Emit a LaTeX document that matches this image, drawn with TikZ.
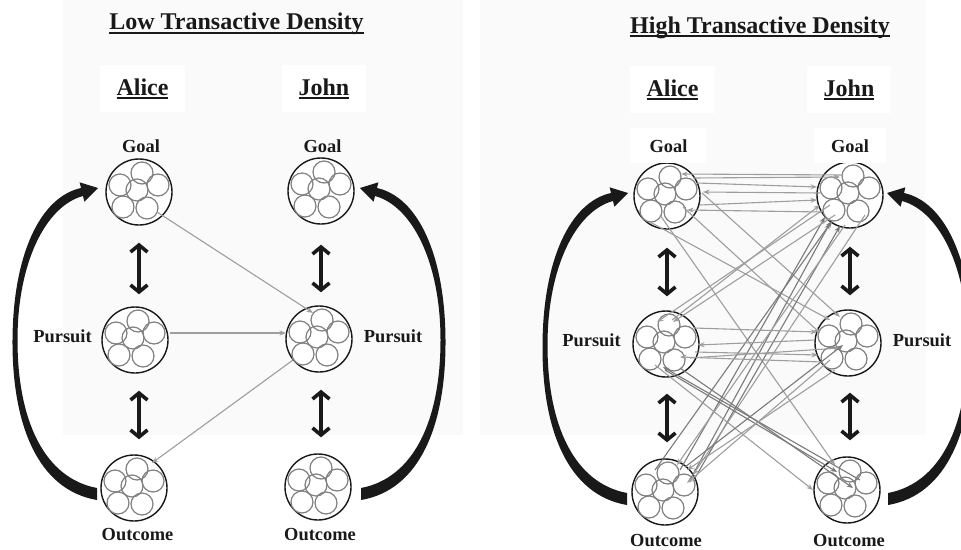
\documentclass[tikz,border=0pt]{standalone}
\usepackage{fontspec}
\setmainfont{Liberation Serif}
\usetikzlibrary{arrows.meta}
\newsavebox\myulbox
\newcommand\myul[1]{\sbox\myulbox{#1}\rlap{\rule[-4.2pt]{\wd\myulbox}{1.9pt}}\usebox\myulbox}
\newcommand\mybigcurve{%
 \fill[black!90] (97,500) .. controls (38,490) and (12,425) .. (12.5,340)
   .. controls (13,255) and (40,197) .. (81,188) -- (79.6,182.3) -- (98,188)
   -- (84.4,201.7) -- (83,196) .. controls (46,206) and (17.5,262) .. (17.5,340)
   .. controls (17.5,420) and (44,478) .. (97,488) -- cycle;}
\tikzset{
  bigc/.style={circle, draw=black!90, line width=1.4pt, fill=white, minimum size=66pt, inner sep=0pt},
  smallc/.style={draw=black!50, line width=1.2pt},
  head/.style={font=\fontsize{24}{28}\selectfont\bfseries, text=black!90, anchor=base, inner sep=0pt},
  lab/.style={font=\fontsize{18.4}{22}\selectfont\bfseries, text=black!90, anchor=base, inner sep=0pt},
  whitebox/.style={fill=white, inner xsep=17pt, inner ysep=13pt},
  dbl/.style={line width=3.6pt, draw=black!90, {Straight Barb[length=7pt,width=17pt]}-{Straight Barb[length=7pt,width=17pt]}},
  garrow/.style={draw=black!38, line width=1.1pt, -{Stealth[length=6.5pt,width=5pt]}},
  garrowd/.style={draw=black!52, line width=1.1pt, -{Stealth[length=6.5pt,width=5pt]}}
}
\begin{document}
\begin{tikzpicture}[x=1pt,y=-1pt]
\useasboundingbox (0,0) rectangle (961,549);
% faint background panels
\fill[black!2] (63,0) rectangle (463,435);
\fill[black!2] (480,0) rectangle (925,435);

% ---------- headings ----------
\node[head] (t1) at (236.5,29.5) {\myul{Low Transactive Density}};
\node[head] (t2) at (760,33) {\myul{High Transactive Density}};
\node[head, whitebox] (la) at (142.5,95) {\myul{Alice}};
\node[head, whitebox] (lj) at (324,95) {\myul{John}};
\node[head, whitebox] (ra) at (672.5,96) {\myul{Alice}};
\node[head, whitebox] (rj) at (849,96) {\myul{John}};

% ---------- left panel circles ----------
\node[bigc] (lAG) at (139,192) {};
\node[bigc] (lJG) at (321,191) {};
\node[bigc] (lAP) at (135,340) {};
\node[bigc] (lJP) at (319,339) {};
\node[bigc] (lAO) at (134,488) {};
\node[bigc] (lJO) at (318,487) {};
% ---------- right panel circles ----------
\node[bigc] (rAG) at (667,196) {};
\node[bigc] (rJG) at (850,195) {};
\node[bigc] (rAP) at (666,344) {};
\node[bigc] (rJP) at (848,343) {};
\node[bigc] (rAO) at (665,492) {};
\node[bigc] (rJO) at (847,490) {};

\foreach \n in {lAG,lJG,lAP,lJP,lAO,lJO,rAG,rJG,rAP,rJP,rAO,rJO}{
  \foreach \dx/\dy in {3/-19,-19/-7,-2/-2,19/-7,-16/15,8/16}{
    \draw[smallc] ([shift={(\dx,\dy)}]\n.center) circle[radius=11pt];
  }
}

% ---------- labels ----------
\node[lab] (lgA) at (141,152) {Goal};
\node[lab] (lgJ) at (322.5,152) {Goal};
\node[lab] (lpA) at (62.5,342) {Pursuit};
\node[lab] (lpJ) at (393,342) {Pursuit};
\node[lab] (loA) at (137.5,540) {Outcome};
\node[lab] (loJ) at (320,540) {Outcome};
\node[lab, fill=white, inner xsep=20pt, inner ysep=11pt] (rgA) at (668.5,152) {Goal};
\node[lab, fill=white, inner xsep=17pt, inner ysep=11pt] (rgJ) at (850,152) {Goal};
\node[lab] (rpA) at (591.5,346.5) {Pursuit};
\node[lab] (rpJ) at (922,346.5) {Pursuit};
\node[lab] (roA) at (666,546.5) {Outcome};
\node[lab] (roJ) at (849,546.5) {Outcome};

% ---------- big curved feedback arrows ----------
\mybigcurve
\begin{scope}[shift={(458,0)},xscale=-1]\mybigcurve\end{scope}
\begin{scope}[shift={(530,5)}]\mybigcurve\end{scope}
\begin{scope}[shift={(985,5)},xscale=-1]\mybigcurve\end{scope}

% ---------- double arrows ----------
\draw[dbl, shorten <=17pt, shorten >=12pt] (lAG.south) -- (lAG.south |- lAP.north);
\draw[dbl, shorten <=17pt, shorten >=15pt] (lAG.south |- lAP.south) -- (lAG.south |- lAO.north);
\draw[dbl, shorten <=20pt, shorten >=13pt] (lJG.south) -- (lJG.south |- lJP.north);
\draw[dbl, shorten <=17pt, shorten >=16pt] (lJG.south |- lJP.south) -- (lJG.south |- lJO.north);
\draw[dbl, shorten <=18pt, shorten >=14pt] (rAG.south) -- (rAG.south |- rAP.north);
\draw[dbl, shorten <=16pt, shorten >=16pt] (rAG.south |- rAP.south) -- (rAG.south |- rAO.north);
\draw[dbl, shorten <=18pt, shorten >=14pt] (rJG.south) -- (rJG.south |- rJP.north);
\draw[dbl, shorten <=16pt, shorten >=16pt] (rJG.south |- rJP.south) -- (rJG.south |- rJO.north);

% ---------- left panel transactive links ----------
\draw[garrow] ([shift={(18,20)}]lAG.center) -- ([shift={(-6,-26)}]lJP.center);
\draw[garrow] ([shift={(35,-7)}]lAP.center) -- ([shift={(-33,-6)}]lJP.center);
\draw[garrow] ([shift={(-26,21)}]lJP.center) -- ([shift={(18,-25)}]lAO.center);

% ---------- right panel transactive links ----------
\draw[garrow]  ([shift={(-7,-20)}]rJG.center) -- ([shift={(14,-22)}]rAG.center);
\draw[garrow]  ([shift={(26,-18)}]rAG.center) -- ([shift={(-10,-18)}]rJG.center);
\draw[garrow]  ([shift={(30,-13)}]rAG.center) -- ([shift={(-33,-8)}]rJG.center);
\draw[garrow]  ([shift={(-30,-2)}]rJG.center) -- ([shift={(36,-4)}]rAG.center);
\draw[garrow]  ([shift={(33,9)}]rAG.center) -- ([shift={(-33,5)}]rJG.center);
\draw[garrow]  ([shift={(-28,17)}]rJG.center) -- ([shift={(20,14)}]rAG.center);
\draw[garrow]  ([shift={(35,-3)}]rAG.center) -- ([shift={(-8,-26)}]rJP.center);
\draw[garrow]  ([shift={(-7,19)}]rAG.center) -- ([shift={(-12,-25)}]rJO.center);
\draw[garrow]  ([shift={(16,11)}]rAG.center) -- ([shift={(-28,-10)}]rJP.center);
\draw[garrow]  ([shift={(-17,26)}]rAG.center) -- ([shift={(-18,-23)}]rJP.center);
\draw[garrowd] ([shift={(15,-22)}]rAO.center) -- ([shift={(-25,22)}]rJG.center);
\draw[garrowd] ([shift={(25,-12)}]rAO.center) -- ([shift={(-20,28)}]rJG.center);
\draw[garrow]  ([shift={(6,-24)}]rAP.center) -- ([shift={(-30,10)}]rJG.center);
\draw[garrowd] ([shift={(30,-14)}]rAO.center) -- ([shift={(-10,31)}]rJG.center);
\draw[garrowd] ([shift={(-10,-22)}]rAO.center) -- ([shift={(-18,26)}]rJG.center);
\draw[garrow]  ([shift={(15,20)}]rJG.center) -- ([shift={(28,-17)}]rAO.center);
\draw[garrow]  ([shift={(-18,17)}]rJP.center) -- ([shift={(22,-9)}]rAO.center);
\draw[garrow]  ([shift={(-5,30)}]rJG.center) -- ([shift={(12,-27)}]rAO.center);
\draw[garrow]  ([shift={(-20,10)}]rJG.center) -- ([shift={(-9,-22)}]rAP.center);
\draw[garrow]  ([shift={(-15,20)}]rJG.center) -- ([shift={(7,-22)}]rAP.center);
\draw[garrow]  ([shift={(28,-16)}]rAP.center) -- ([shift={(-31,-11)}]rJP.center);
\draw[garrow]  ([shift={(-33,-3)}]rJP.center) -- ([shift={(32,1)}]rAP.center);
\draw[garrow]  ([shift={(29,8)}]rAP.center) -- ([shift={(-30,12)}]rJP.center);
\draw[garrow]  ([shift={(24,14)}]rAP.center) -- ([shift={(-8,5)}]rJP.center);
\draw[garrow]  ([shift={(-26,19)}]rJP.center) -- ([shift={(14,13)}]rAP.center);
\draw[garrow]  ([shift={(-11,21)}]rAP.center) -- ([shift={(-34,0)}]rJO.center);
\draw[garrowd] ([shift={(-1,26)}]rAP.center) -- ([shift={(-10,-18)}]rJO.center);
\draw[garrowd] ([shift={(14,24)}]rAP.center) -- ([shift={(6,-2)}]rJO.center);
\draw[garrowd] ([shift={(13,-10)}]rJO.center) -- ([shift={(-3,23)}]rAP.center);
\draw[garrowd] ([shift={(20,-25)}]rAO.center) -- ([shift={(-5,2)}]rJP.center);
\draw[garrow]  ([shift={(-13,27)}]rJP.center) -- ([shift={(22,-22)}]rAO.center);
\end{tikzpicture}
\end{document}
